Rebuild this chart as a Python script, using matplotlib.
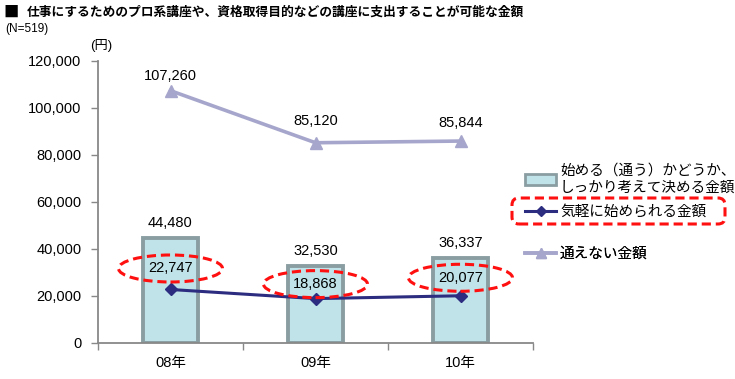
import matplotlib
matplotlib.use('Agg')
import matplotlib.pyplot as plt
from matplotlib.patches import Ellipse, FancyBboxPatch, Patch
from matplotlib.lines import Line2D
from matplotlib.transforms import offset_copy, IdentityTransform

# ---------------- data ----------------
categories = ['08年', '09年', '10年']
decide_values = [44480, 32530, 36337]     # 始める（通う）かどうか、しっかり考えて決める金額
casual_values = [22747, 18868, 20077]     # 気軽に始められる金額
cannot_values = [107260, 85120, 85844]    # 通えない金額
yticks = [0, 20000, 40000, 60000, 80000, 100000, 120000]
series_labels = ['始める（通う）かどうか、\nしっかり考えて決める金額',
                 '気軽に始められる金額',
                 '通えない金額']
title_mark = '■'
title = '仕事にするためのプロ系講座や、資格取得目的などの講座に支出することが可能な金額'
subtitle = '(N=519)'
unit_label = '(円)'

# label offsets (pixels above the point)
bar_label_off = [15, 15, 15]
casual_label_off = [21, 14.5, 18]
cannot_label_off = [15, 22, 18]

plt.rcParams['font.family'] = ['Liberation Sans', 'Noto Sans CJK JP', 'DejaVu Sans']

W, H = 735, 379
fig = plt.figure(figsize=(W / 100, H / 100), dpi=100)
fig.patch.set_facecolor('white')
ax = fig.add_axes([98 / W, 36 / H, 435 / W, 282.3 / H])

bar_face = '#bfe3e8'
bar_edge = '#8a9ea2'
casual_color = '#2c2c80'
cannot_color = '#a6a6cc'

x = list(range(len(categories)))
ax.bar(x, decide_values, width=0.385, color=bar_face, edgecolor=bar_edge,
       linewidth=2.8, zorder=2)
ax.plot(x, casual_values, color=casual_color, lw=2.2, marker='D', ms=6,
        zorder=4)
ax.plot(x, cannot_values, color=cannot_color, lw=2.6, marker='^', ms=8.5,
        zorder=4)

fs = 10.5
for i, v, off in zip(x, decide_values, bar_label_off):
    ax.annotate(f'{v:,}', (i, v), xytext=(0, off), textcoords='offset pixels',
                ha='center', va='center', fontsize=fs, zorder=6)
for i, v, off in zip(x, casual_values, casual_label_off):
    ax.annotate(f'{v:,}', (i, v), xytext=(0, off), textcoords='offset pixels',
                ha='center', va='center', fontsize=fs, zorder=6)
    tr = offset_copy(ax.transData, fig=fig, x=0, y=off, units='dots')
    ax.add_patch(Ellipse((i, v), 104 / 145, 27 * 120000 / 282.3, transform=tr,
                         fill=False, ec='#ff1010', lw=2.2,
                         ls=(0, (3, 1.6)), zorder=7, clip_on=False))
for i, v, off in zip(x, cannot_values, cannot_label_off):
    ax.annotate(f'{v:,}', (i, v), xytext=(0, off), textcoords='offset pixels',
                ha='center', va='center', fontsize=fs, zorder=6)

ax.set_xlim(-0.5, 2.5)
ax.set_ylim(0, 120000)
ax.set_yticks(yticks)
ax.set_yticklabels([f'{t:,}' for t in yticks])
ax.set_xticks(x)
ax.set_xticklabels(categories)
ax.set_xticks([-0.5, 0.5, 1.5, 2.5], minor=True)
ax.tick_params(axis='y', direction='out', length=5, color='#888888', width=1,
               pad=7, labelsize=fs)
ax.tick_params(axis='x', which='major', length=0, pad=9, labelsize=fs)
ax.tick_params(axis='x', which='minor', direction='out', length=5,
               color='#888888', width=1)
for s in ('top', 'right'):
    ax.spines[s].set_visible(False)
for s in ('left', 'bottom'):
    ax.spines[s].set_color('#888888')
    ax.spines[s].set_linewidth(1.3)

# legends (one per entry so spacing matches)
handles = [Patch(facecolor=bar_face, edgecolor=bar_edge, linewidth=2),
           Line2D([], [], color=casual_color, lw=2.2, marker='D', ms=5),
           Line2D([], [], color=cannot_color, lw=2.6, marker='^', ms=7)]
centers = [179, 212, 254]
for h, lab, cy in zip(handles, series_labels, centers):
    leg = ax.legend(handles=[h], labels=[lab], loc='center left',
                    bbox_to_anchor=(525 / W, 1 - cy / H),
                    bbox_transform=fig.transFigure, frameon=False,
                    borderpad=0, borderaxespad=0, handlelength=2.15,
                    handletextpad=0.25, fontsize=fs)
    for t in leg.get_texts():
        t.set_linespacing(1.3)
    ax.add_artist(leg)

# red dashed highlight around the legend entry
fig.add_artist(FancyBboxPatch((512, H - 224), 213, 26,
                              boxstyle='round,pad=0,rounding_size=7',
                              transform=IdentityTransform(), fill=False,
                              ec='#ff1010', lw=2.2, ls=(0, (3, 1.6))))

fig.text(3 / W, 1 - 12 / H, title_mark, fontsize=11,
         family=['Noto Sans CJK JP'], va='center', ha='left')
fig.text(27 / W, 1 - 12 / H, title, fontsize=9.2, fontweight='bold',
         va='center', ha='left')
fig.text(5 / W, 1 - 29 / H, subtitle, fontsize=8.5, va='center', ha='left')
fig.text(101 / W, 1 - 45 / H, unit_label, fontsize=9.5, va='center',
         ha='center')

fig.savefig('out.png', dpi=100)
